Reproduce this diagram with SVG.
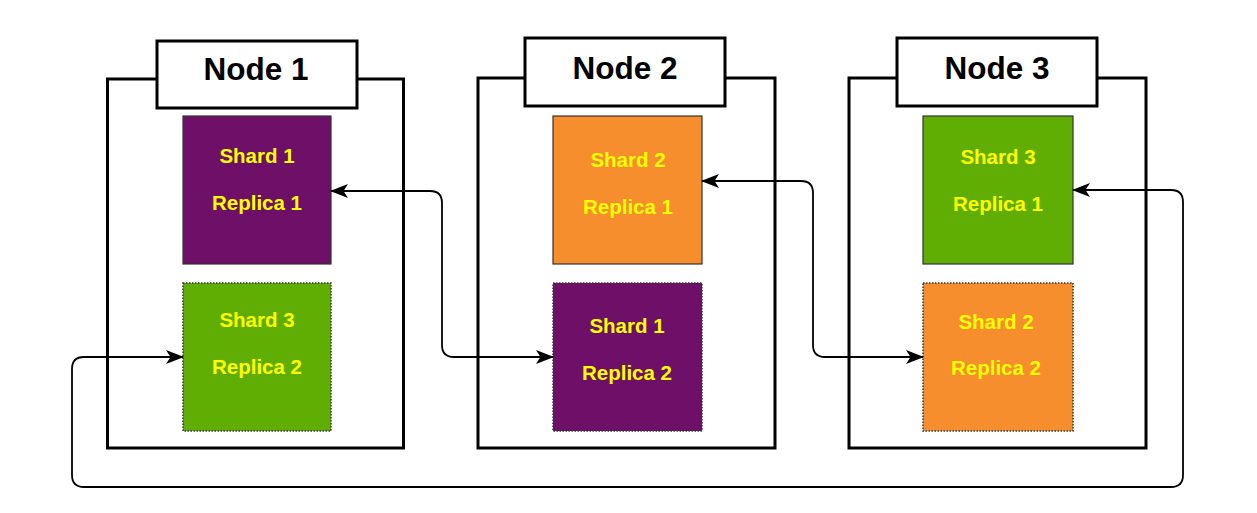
<svg xmlns="http://www.w3.org/2000/svg" width="1257" height="513" viewBox="0 0 1257 513">
  <style>
    .container { fill: none; stroke: #000; stroke-width: 3; }
    .label { fill: #fff; stroke: #000; stroke-width: 3; }
    .title { font-family: "Liberation Sans", Arial, sans-serif; font-weight: bold; font-size: 31.5px; fill: #000; text-anchor: middle; }
    .shard { font-family: "Liberation Sans", Arial, sans-serif; font-weight: bold; font-size: 20.5px; fill: #FFFF00; text-anchor: middle; }
    .primary { stroke: #333; stroke-width: 1.2; }
    .replica { stroke: #333; stroke-width: 1.5; stroke-dasharray: 1.5 1.5; }
    .purple { fill: #6E1068; }
    .orange { fill: #F68E2E; }
    .green { fill: #60AE04; }
    .conn { fill: none; stroke: #000; stroke-width: 1.8; }
  </style>
  <defs>
    <marker id="arrow" viewBox="0 0 18 14" refX="17" refY="7" markerWidth="18" markerHeight="14" markerUnits="userSpaceOnUse" orient="auto-start-reverse">
      <path d="M0,0 L18,7 L0,14 L4.5,7 Z" fill="#000"/>
    </marker>
  </defs>
  <rect width="1257" height="513" fill="#fff"/>

  <g id="node1">
    <rect class="container" x="107.5" y="79" width="296" height="369"/>
    <rect class="label" x="157" y="41" width="200" height="67"/>
    <text class="title" x="256" y="80">Node 1</text>
    <g id="n1-shard1-replica1">
      <rect class="purple primary" x="183" y="116" width="148" height="148"/>
      <text class="shard" x="257" y="163">Shard 1</text>
      <text class="shard" x="257" y="210">Replica 1</text>
    </g>
    <g id="n1-shard3-replica2">
      <rect class="green replica" x="183" y="283" width="148" height="148"/>
      <text class="shard" x="257" y="327">Shard 3</text>
      <text class="shard" x="257" y="374">Replica 2</text>
    </g>
  </g>

  <g id="node2">
    <rect class="container" x="478" y="78" width="297" height="370"/>
    <rect class="label" x="525" y="38" width="200" height="68"/>
    <text class="title" x="625" y="79">Node 2</text>
    <g id="n2-shard2-replica1">
      <rect class="orange primary" x="553" y="116" width="149" height="148"/>
      <text class="shard" x="628" y="167">Shard 2</text>
      <text class="shard" x="628" y="214">Replica 1</text>
    </g>
    <g id="n2-shard1-replica2">
      <rect class="purple replica" x="553" y="283" width="149" height="148"/>
      <text class="shard" x="627" y="333">Shard 1</text>
      <text class="shard" x="627" y="380">Replica 2</text>
    </g>
  </g>

  <g id="node3">
    <rect class="container" x="849" y="78" width="297" height="370"/>
    <rect class="label" x="897" y="38" width="200" height="68"/>
    <text class="title" x="997" y="79">Node 3</text>
    <g id="n3-shard3-replica1">
      <rect class="green primary" x="923" y="116" width="150" height="148"/>
      <text class="shard" x="998" y="164">Shard 3</text>
      <text class="shard" x="998" y="211">Replica 1</text>
    </g>
    <g id="n3-shard2-replica2">
      <rect class="orange replica" x="923" y="283" width="150" height="148"/>
      <text class="shard" x="996" y="329">Shard 2</text>
      <text class="shard" x="996" y="375">Replica 2</text>
    </g>
  </g>

  <g id="connectors">
    <path class="conn" marker-start="url(#arrow)" marker-end="url(#arrow)" d="M 331 191 H 430 Q 442 191 442 203 V 345 Q 442 357 454 357 H 553"/>
    <path class="conn" marker-start="url(#arrow)" marker-end="url(#arrow)" d="M 702 181 H 801 Q 813 181 813 193 V 345 Q 813 357 825 357 H 923"/>
    <path class="conn" marker-start="url(#arrow)" marker-end="url(#arrow)" d="M 1073 190 H 1171 Q 1183 190 1183 202 V 475 Q 1183 487 1171 487 H 84 Q 72 487 72 475 V 369 Q 72 357 84 357 H 183"/>
  </g>
</svg>
